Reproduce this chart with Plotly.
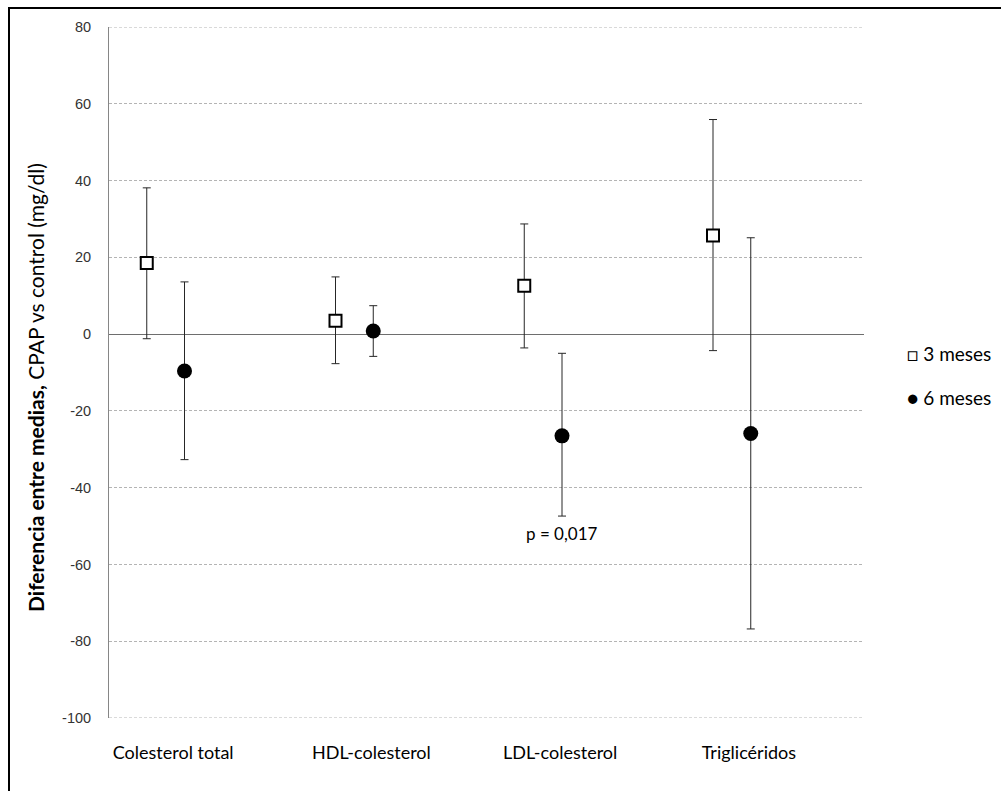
import plotly.graph_objects as go

# Lipid parameters and mean differences (CPAP vs control), with 95% CI bounds
categories = ["Colesterol total", "HDL-colesterol", "LDL-colesterol", "Triglicéridos"]

mean_3m = [18.5, 3.5, 12.6, 25.7]
low_3m = [-1.2, -7.7, -3.6, -4.3]
high_3m = [38.1, 14.9, 28.7, 55.9]

mean_6m = [-9.6, 0.8, -26.5, -25.9]
low_6m = [-32.7, -5.8, -47.4, -76.8]
high_6m = [13.6, 7.4, -5.0, 25.1]

series_names = ["3 meses", "6 meses"]
p_label = "p = 0,017"
p_value_y = -52

y_ticks = [-100, -80, -60, -40, -20, 0, 20, 40, 60, 80]
y_tick_text = [str(v) for v in y_ticks]  # plain hyphen for negatives

# x positions: each category at an integer, 6-month point shifted right
x_3m = [i + 1 for i in range(len(categories))]
x_6m = [i + 1.2 for i in range(len(categories))]
label_x = [1.14, 2.19, 3.19, 4.19]

err_color = "#262626"
grid_color = "#b4b4b4"
grid_dash = "3px,2px"

fig = go.Figure()

fig.add_trace(go.Scatter(
    x=x_3m, y=mean_3m, mode="markers", name=series_names[0],
    marker=dict(symbol="square", size=12, color="white",
                line=dict(color="black", width=2)),
    error_y=dict(type="data", symmetric=False,
                 array=[h - m for h, m in zip(high_3m, mean_3m)],
                 arrayminus=[m - l for m, l in zip(mean_3m, low_3m)],
                 color=err_color, thickness=1, width=4),
    showlegend=False,
))

fig.add_trace(go.Scatter(
    x=x_6m, y=mean_6m, mode="markers", name=series_names[1],
    marker=dict(symbol="circle", size=15, color="black",
                line=dict(color="black", width=0)),
    error_y=dict(type="data", symmetric=False,
                 array=[h - m for h, m in zip(high_6m, mean_6m)],
                 arrayminus=[m - l for m, l in zip(mean_6m, low_6m)],
                 color=err_color, thickness=1, width=4),
    showlegend=False,
))

L, R, T, B = 109, 137, 27, 73
W, H = 1001, 791
pw, ph = W - L - R, H - T - B


def px_x(px):
    return (px - L) / pw


def px_y(py):
    return 1 - (py - T) / ph


annotations = [
    dict(x=px_x(35), y=px_y(388), xref="paper", yref="paper", textangle=-90,
         xanchor="center", yanchor="middle",
         text="<b>Diferencia entre medias,</b> CPAP vs control (mg/dl)",
         showarrow=False, font=dict(family="Lato", size=21, color="black")),
    dict(x=3.2, y=p_value_y, xref="x", yref="y", text=p_label, showarrow=False,
         font=dict(family="Lato", size=17, color="black")),
    dict(x=px_x(993), y=px_y(353), xref="paper", yref="paper",
         text="□ " + series_names[0], showarrow=False, xanchor="right",
         font=dict(family="Lato", size=19, color="black")),
    dict(x=px_x(993), y=px_y(397), xref="paper", yref="paper",
         text="● " + series_names[1], showarrow=False, xanchor="right",
         font=dict(family="Lato", size=19, color="black")),
]

shapes = [
    # frame edges on the left and top of the figure
    dict(type="line", xref="paper", yref="paper",
         x0=px_x(9), x1=px_x(9), y0=px_y(8), y1=px_y(800),
         line=dict(color="black", width=2)),
    dict(type="line", xref="paper", yref="paper",
         x0=px_x(8), x1=px_x(1010), y0=px_y(8), y1=px_y(8),
         line=dict(color="black", width=2)),
    # gridlines at the two ends of the value axis
    dict(type="line", xref="paper", yref="y", x0=0, x1=1,
         y0=y_ticks[-1], y1=y_ticks[-1],
         line=dict(color=grid_color, width=1, dash=grid_dash)),
    dict(type="line", xref="paper", yref="y", x0=0, x1=1,
         y0=y_ticks[0], y1=y_ticks[0],
         line=dict(color=grid_color, width=1, dash=grid_dash)),
]

fig.update_layout(
    width=W, height=H,
    margin=dict(l=L, r=R, t=T, b=B, autoexpand=False),
    paper_bgcolor="white", plot_bgcolor="white",
    annotations=annotations, shapes=shapes,
    xaxis=dict(range=[0.8, 4.8], tickvals=label_x, ticktext=categories,
               showgrid=False, zeroline=False, showline=False,
               ticks="outside", ticklen=18, tickcolor="rgba(0,0,0,0)",
               tickfont=dict(family="Lato", size=18, color="black")),
    yaxis=dict(range=[y_ticks[0], y_ticks[-1]], tickvals=y_ticks,
               ticktext=y_tick_text, showgrid=True,
               gridcolor=grid_color, griddash=grid_dash, gridwidth=1,
               zeroline=True, zerolinecolor="#6e6e6e", zerolinewidth=1,
               showline=True, linecolor="#868686", linewidth=1,
               ticks="outside", ticklen=14, tickcolor="rgba(0,0,0,0)",
               tickfont=dict(family="Liberation Sans", size=14.5, color="#333333")),
)

fig.write_html("out.html")
